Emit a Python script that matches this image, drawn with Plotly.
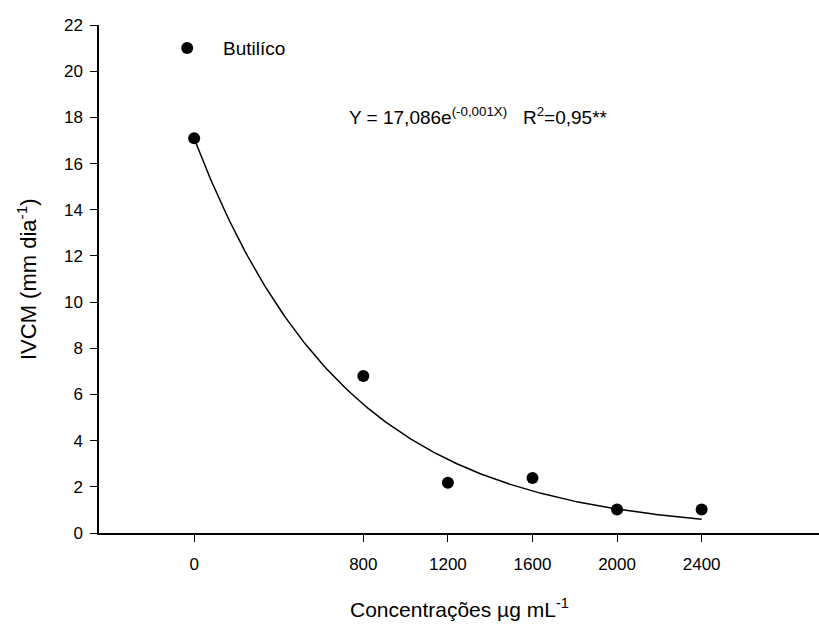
import numpy as np
import plotly.graph_objects as go

# Data
concentracoes = [0, 800, 1200, 1600, 2000, 2400]
ivcm = [17.1, 6.8, 2.18, 2.38, 1.02, 1.02]
x_tick_vals = [0, 800, 1200, 1600, 2000, 2400]
x_tick_text = ["0", "800", "1200", "1600", "2000", "2400"]
y_tick_vals = list(range(0, 23, 2))

# Fitted exponential model (as drawn)
fit_a = 17.086
fit_k = 0.0014
fit_x = np.linspace(0, 2400, 200)
fit_y = fit_a * np.exp(-fit_k * fit_x)

FONT = "Liberation Sans"

fig = go.Figure()
fig.add_trace(go.Scatter(x=fit_x, y=fit_y, mode="lines",
                         line=dict(color="black", width=1.5), showlegend=False,
                         hoverinfo="skip"))
fig.add_trace(go.Scatter(x=concentracoes, y=ivcm, mode="markers",
                         marker=dict(color="black", size=12), showlegend=False))
# legend symbol
fig.add_trace(go.Scatter(x=[-33], y=[21.0], mode="markers",
                         marker=dict(color="black", size=12), showlegend=False,
                         hoverinfo="skip"))

fig.add_annotation(x=-33, y=21.0, xref="x", yref="y", text="Butilíco",
                   showarrow=False, xanchor="left", xshift=34,
                   font=dict(family=FONT, size=19, color="black"))
fig.add_annotation(x=722, y=18.05, xref="x", yref="y",
                   text="Y = 17,086e<sup>(-0,001X)</sup>   R<sup>2</sup>=0,95**",
                   showarrow=False, xanchor="left", yanchor="middle",
                   font=dict(family=FONT, size=19, color="black"))
fig.add_annotation(x=0.5, y=-75/508, xref="paper", yref="paper",
                   text="Concentrações µg mL<sup>-1</sup>", showarrow=False,
                   xanchor="center", yanchor="middle",
                   font=dict(family=FONT, size=21, color="black"))
fig.add_annotation(x=-72/720, y=11.0, xref="paper", yref="y",
                   text="IVCM (mm dia<sup>-1</sup>)", showarrow=False,
                   textangle=-90, xanchor="center", yanchor="middle",
                   font=dict(family=FONT, size=22, color="black"))

fig.update_layout(
    width=819, height=625, autosize=False,
    margin=dict(l=99, r=0, t=25, b=92),
    plot_bgcolor="white", paper_bgcolor="white",
    font=dict(family=FONT, size=17, color="black"),
    xaxis=dict(range=[-450, 2955], tickvals=x_tick_vals, ticktext=x_tick_text,
               tickfont=dict(family=FONT, size=17, color="black"),
               showline=True, linecolor="black", linewidth=1.5,
               ticks="outside", ticklen=7, tickwidth=1.2, tickcolor="black",
               showgrid=False, zeroline=False, ticklabelstandoff=8),
    yaxis=dict(range=[0, 22], tickvals=y_tick_vals,
               tickfont=dict(family=FONT, size=17, color="black"),
               showline=True, linecolor="black", linewidth=1.5,
               ticks="outside", ticklen=7, tickwidth=1.2, tickcolor="black",
               showgrid=False, zeroline=False, ticklabelstandoff=4),
)

fig.write_html("out.html")
